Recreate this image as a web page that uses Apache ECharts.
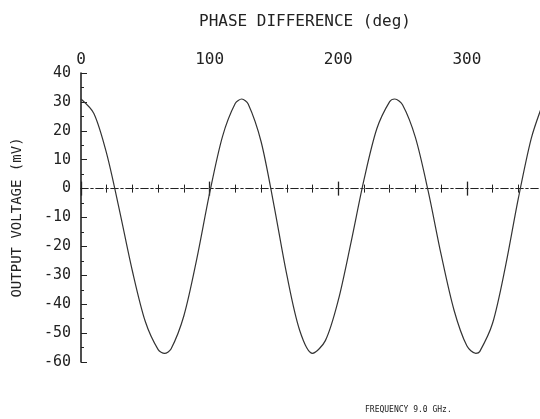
<!DOCTYPE html>
<html>
<head>
<meta charset="utf-8">
<script src="https://cdn.jsdelivr.net/npm/echarts@6/dist/echarts.min.js"></script>
<style>
  html, body { margin: 0; padding: 0; background: #fff; }
  #main { width: 540px; height: 419px; }
</style>
</head>
<body>
<div id="main"></div>
<script>
// phase difference (deg) and output voltage (mV)
var phase = [0, 10, 20, 30, 40, 50, 60, 65, 70, 80, 90, 100, 110, 120, 125, 130, 140, 150, 160, 170, 180,
    190, 200, 210, 220, 230, 240, 244, 250, 260, 270, 280, 290, 300, 307, 310, 320, 330, 340, 350, 358];
var voltage = [31, 26, 12, -7.7, -28.6, -46, -55.7, -57, -55.5, -44, -24.4, -1.6, 18, 29.5, 31, 29.3, 16.3, -5.7, -29.8, -49, -57,
    -52.6, -38.7, -18.5, 3, 20.7, 30.1, 31, 29, 17.7, -1, -22.8, -42, -54.4, -57, -56.4, -46.6, -27, -3.5, 17.2, 28];

var xTitle = 'PHASE DIFFERENCE (deg)';
var yTitle = 'OUTPUT VOLTAGE (mV)';
var note = 'FREQUENCY 9.0 GHz.';

var ink = '#222';
var mono = "'DejaVu Sans Mono', monospace";

var myChart = echarts.init(document.getElementById('main'));

var curve = [];
for (var i = 0; i < phase.length; i++) {
    curve.push([phase[i], voltage[i]]);
}

// zero line axis (dash-dot), one copy ticks down, one ticks up
var zeroAxis = function (pos) {
    return {
        type: 'value',
        position: pos,
        min: 0,
        max: 360,
        interval: 100,
        axisLine: {onZero: true, onZeroAxisIndex: 0, lineStyle: {color: ink, width: 1, type: [7, 3, 2, 3]}},
        axisTick: {show: true, inside: false, length: 7, lineStyle: {color: ink, width: 1.3}},
        minorTick: {show: true, splitNumber: 5, length: 4, lineStyle: {color: ink, width: 1}},
        axisLabel: {show: false},
        splitLine: {show: false}
    };
};

var option = {
    animation: false,
    backgroundColor: '#fff',
    title: {
        text: xTitle,
        left: 300,
        top: 9,
        textAlign: 'center',
        textStyle: {fontFamily: mono, fontSize: 16, fontWeight: 'normal', color: ink}
    },
    grid: {left: 81, top: 73, bottom: 57, right: -4, outerBoundsMode: 'none', containLabel: false},
    xAxis: [
        zeroAxis('bottom'),
        zeroAxis('top'),
        {
            type: 'value',
            position: 'top',
            min: 0,
            max: 360,
            interval: 100,
            axisLine: {show: false, onZero: false},
            axisTick: {show: false},
            splitLine: {show: false},
            axisLabel: {
                margin: 5,
                showMaxLabel: false,
                fontFamily: mono,
                fontSize: 16,
                color: ink,
                formatter: function (v) { return v <= 300 ? v : ''; }
            }
        }
    ],
    yAxis: {
        type: 'value',
        min: -60,
        max: 40,
        interval: 10,
        name: yTitle,
        nameLocation: 'middle',
        nameGap: 57,
        nameRotate: 90,
        nameTextStyle: {fontFamily: mono, fontSize: 14, color: ink},
        axisLine: {onZero: false, lineStyle: {color: ink, width: 1.6}},
        axisTick: {inside: true, length: 6, lineStyle: {color: ink}},
        minorTick: {show: true, splitNumber: 2, length: 3, lineStyle: {color: ink}},
        splitLine: {show: false},
        axisLabel: {margin: 10, fontFamily: mono, fontSize: 15, color: ink}
    },
    graphic: [{
        type: 'text',
        left: 365,
        top: 406,
        style: {text: note, fontFamily: mono, fontSize: 8, fill: ink}
    }],
    series: [{
        type: 'line',
        xAxisIndex: 0,
        data: curve,
        smooth: 0.3,
        showSymbol: false,
        lineStyle: {color: '#333', width: 1.2}
    }]
};

myChart.setOption(option);
</script>
</body>
</html>
